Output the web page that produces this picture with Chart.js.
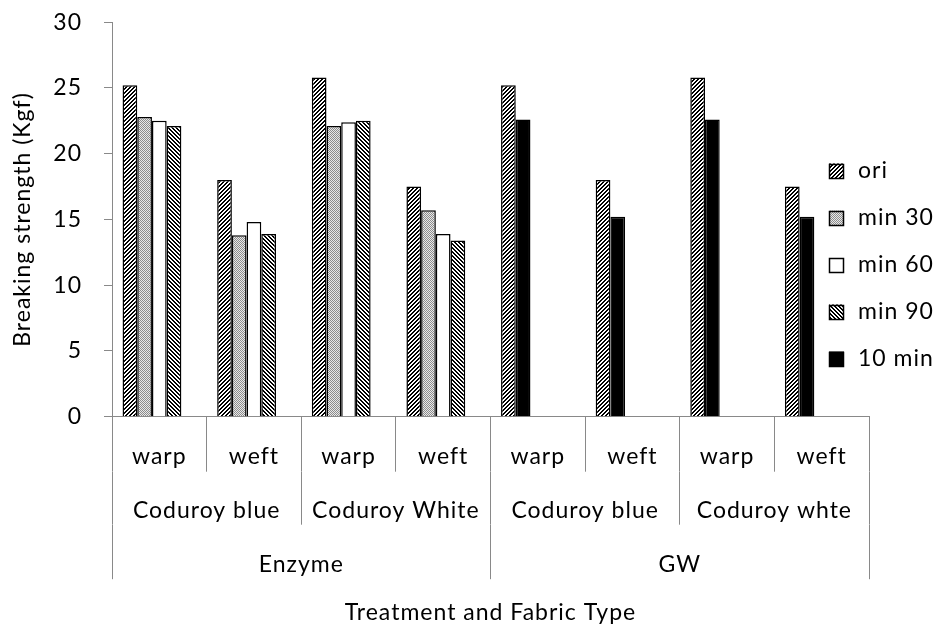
<!DOCTYPE html>
<html>
<head>
<meta charset="utf-8">
<script src="https://cdn.jsdelivr.net/npm/chart.js@4.4.1/dist/chart.umd.min.js"></script>
<style>html,body{margin:0;padding:0;background:#fff}canvas{display:block}</style>
</head>
<body>
<canvas id="c" width="940" height="632"></canvas>
<script>
// ---- data ----
const categories = ['warp', 'weft', 'warp', 'weft', 'warp', 'weft', 'warp', 'weft'];
const fabrics = ['Coduroy blue', 'Coduroy White', 'Coduroy blue', 'Coduroy whte'];
const treatments = ['Enzyme', 'GW'];
const seriesLabels = ['ori', 'min 30', 'min 60', 'min 90', '10 min'];
const ori    = [25.2, 18.0, 25.8, 17.5, 25.2, 18.0, 25.8, 17.5];
const min30  = [22.8, 13.8, 22.1, 15.7, null, null, null, null];
const min60  = [22.5, 14.8, 22.4, 13.9, null, null, null, null];
const min90  = [22.1, 13.9, 22.5, 13.4, null, null, null, null];
const tenMin = [null, null, null, null, 22.6, 15.2, 22.6, 15.2];
const yTicks = [0, 5, 10, 15, 20, 25, 30];

// ---- styling ----
const FONT = 'Lato';
const FS = 23;
const AXIS_GRAY = '#898989';
const canvas = document.getElementById('c');
const ctx = canvas.getContext('2d');

function makePattern(size, fn) {
  const c = document.createElement('canvas');
  c.width = size; c.height = size;
  const g = c.getContext('2d');
  const img = g.createImageData(size, size);
  for (let y = 0; y < size; y++) {
    for (let x = 0; x < size; x++) {
      const v = fn(x, y);
      const i = (y * size + x) * 4;
      img.data[i] = v; img.data[i + 1] = v; img.data[i + 2] = v; img.data[i + 3] = 255;
    }
  }
  g.putImageData(img, 0, 0);
  return ctx.createPattern(c, 'repeat');
}
const patOri = makePattern(4, (x, y) => ((x + y) % 4) < 2 ? 0 : 255);
const patMin30 = makePattern(2, (x, y) => ((x + y) % 2) === 0 ? 140 : 232);
const patMin90 = makePattern(4, (x, y) => (((x - y) % 4) + 4) % 4 < 2 ? 0 : 255);
const fills = [patOri, patMin30, '#ffffff', patMin90, '#000000'];

const spacingPlugin = {
  id: 'spacing',
  beforeLayout(chart) { chart.ctx.letterSpacing = '1px'; },
  beforeDraw(chart) { chart.ctx.letterSpacing = '1px'; }
};

const sideLegend = {
  id: 'sideLegend',
  afterDraw(chart) {
    const c = chart.ctx;
    c.save();
    c.letterSpacing = '1px';
    c.font = FS + 'px ' + FONT;
    c.textBaseline = 'middle';
    c.textAlign = 'left';
    const items = chart.data.datasets.filter(d => d.label);
    const firstY = 171, gap = 47, boxX = 829, box = 15, textX = 858;
    items.forEach((d, i) => {
      const cy = firstY + i * gap;
      c.fillStyle = d.backgroundColor;
      c.fillRect(boxX, cy - box / 2, box, box);
      c.strokeStyle = '#000';
      c.lineWidth = 1.5;
      c.strokeRect(boxX + 0.5, Math.round(cy - box / 2) + 0.5, box - 1, box - 1);
      c.fillStyle = '#000';
      c.fillText(d.label, textX, cy);
    });
    c.restore();
  }
};

const tickFont = { family: FONT, size: FS };

const chart = new Chart(ctx, {
  type: 'bar',
  data: {
    labels: categories,
    datasets: [
      { label: seriesLabels[0], data: ori,    backgroundColor: fills[0], stack: 's1' },
      { label: seriesLabels[1], data: min30,  backgroundColor: fills[1], stack: 's2' },
      { label: seriesLabels[2], data: min60,  backgroundColor: fills[2], stack: 's3' },
      { label: seriesLabels[3], data: min90,  backgroundColor: fills[3], stack: 's4' },
      { label: seriesLabels[4], data: tenMin, backgroundColor: fills[4], stack: 's2' },
      // empty fifth slot (the reference groups leave room for five bars)
      { label: '', data: [], stack: 's5' }
    ]
  },
  options: {
    responsive: false,
    animation: false,
    events: [],
    layout: { padding: { left: 0, top: 22.2, right: 71, bottom: 0 } },
    datasets: {
      bar: { categoryPercentage: 0.777, barPercentage: 1, borderColor: '#000', borderWidth: 1.5 }
    },
    plugins: { legend: { display: false }, tooltip: { enabled: false } },
    scales: {
      x: {
        position: 'bottom', weight: 0, offset: true,
        grid: { offset: true, drawOnChartArea: false, drawTicks: true, tickLength: 55, color: AXIS_GRAY },
        border: { display: true, color: AXIS_GRAY, width: 1 },
        ticks: { color: '#000', font: tickFont, padding: -28.9, autoSkip: false, maxRotation: 0 },
        afterFit: s => { s.height = 55; }
      },
      x2: {
        type: 'category', labels: fabrics, position: 'bottom', weight: 1, offset: true,
        grid: { offset: true, drawOnChartArea: false, drawTicks: true, tickLength: 53, color: AXIS_GRAY },
        border: { display: false },
        ticks: { color: '#000', font: tickFont, padding: -27.9, autoSkip: false, maxRotation: 0 },
        afterFit: s => { s.height = 53; }
      },
      x3: {
        type: 'category', labels: treatments, position: 'bottom', weight: 2, offset: true,
        grid: { offset: true, drawOnChartArea: false, drawTicks: true, tickLength: 54.5, color: AXIS_GRAY },
        border: { display: false },
        ticks: { color: '#000', font: tickFont, padding: -28.1, autoSkip: false, maxRotation: 0 },
        title: { display: true, text: 'Treatment and Fabric Type', color: '#000', font: tickFont, padding: { top: 0, bottom: 6 } },
        afterFit: s => { s.height = 107.3; }
      },
      y: {
        stacked: false, min: 0, max: 30,
        afterBuildTicks: s => { s.ticks = yTicks.map(v => ({ value: v })); },
        ticks: { color: '#000', font: tickFont, padding: 22 },
        grid: { drawOnChartArea: false, drawTicks: true, tickLength: 8, color: AXIS_GRAY },
        border: { display: true, color: AXIS_GRAY, width: 1 },
        title: { display: true, text: 'Breaking strength (Kgf)', color: '#000', font: tickFont, padding: { top: 9, bottom: 0 } },
        afterFit: s => { s.width = 112; s.paddingTop = 0; s.paddingBottom = 0; }
      }
    }
  },
  plugins: [spacingPlugin, sideLegend]
});
</script>
</body>
</html>
